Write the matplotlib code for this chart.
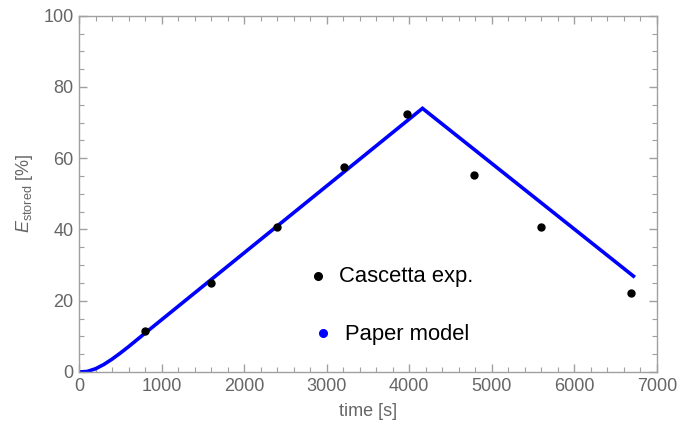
import numpy as np
import matplotlib
matplotlib.use("Agg")
import matplotlib.pyplot as plt
from matplotlib.ticker import MultipleLocator

plt.rcParams['font.family'] = ['Liberation Sans', 'DejaVu Sans']
plt.rcParams['mathtext.fontset'] = 'custom'
plt.rcParams['mathtext.rm'] = 'Liberation Sans'
plt.rcParams['mathtext.it'] = 'Liberation Sans:italic'

# --- données ---
t_exp = [800, 1600, 2400, 3210, 3970, 4780, 5590, 6690]
e_exp = [11.5, 25.0, 40.6, 57.4, 72.5, 55.3, 40.6, 22.1]

t_model = [0, 100, 200, 300, 400, 500, 600, 800, 4160, 6715]
e_model = [0, 0.15, 0.9, 2.1, 3.6, 5.3, 7.1, 10.9, 74.0, 26.9]

GRIS_CADRE = "#a0a0a0"
GRIS_TEXTE = "#666666"

fig = plt.figure(figsize=(6.78, 4.33), dpi=100)
ax = fig.add_axes([0.1165, 0.1409, 0.8525, 0.8228])

ax.plot(t_model, e_model, color="#0000ff", linewidth=2.6, solid_joinstyle='miter', zorder=2)
ax.plot(t_exp, e_exp, 'o', color="black", markersize=5, zorder=3)

ax.set_xlim(0, 7000)
ax.set_ylim(0, 100)

ax.xaxis.set_major_locator(MultipleLocator(1000))
ax.xaxis.set_minor_locator(MultipleLocator(200))
ax.yaxis.set_major_locator(MultipleLocator(20))
ax.yaxis.set_minor_locator(MultipleLocator(5))

for sp in ax.spines.values():
    sp.set_color(GRIS_CADRE)
    sp.set_linewidth(1.0)

ax.tick_params(which='both', direction='in', top=True, right=True,
               color=GRIS_CADRE, labelcolor=GRIS_TEXTE, labelsize=13)
ax.tick_params(which='major', length=6, width=1.0, pad=4)
ax.tick_params(which='minor', length=3.5, width=0.8)

ax.set_xlabel("time [s]", fontsize=13, color=GRIS_TEXTE, labelpad=6)
ax.set_ylabel(r"$E_{\mathrm{stored}}$ [%]", fontsize=13, color=GRIS_TEXTE, labelpad=6)

# --- légende placée à la main comme dans l'original ---
ax.plot([2893], [26.9], 'o', color="black", markersize=5.5, clip_on=False)
ax.text(3148, 25.2, "Cascetta exp.", fontsize=15.8, color="black", va='baseline', ha='left')
ax.plot([2954], [10.9], 'o', color="#0000ff", markersize=5.5, clip_on=False)
ax.text(3220, 9.0, "Paper model", fontsize=15.8, color="black", va='baseline', ha='left')

fig.savefig("out.png", dpi=100)
